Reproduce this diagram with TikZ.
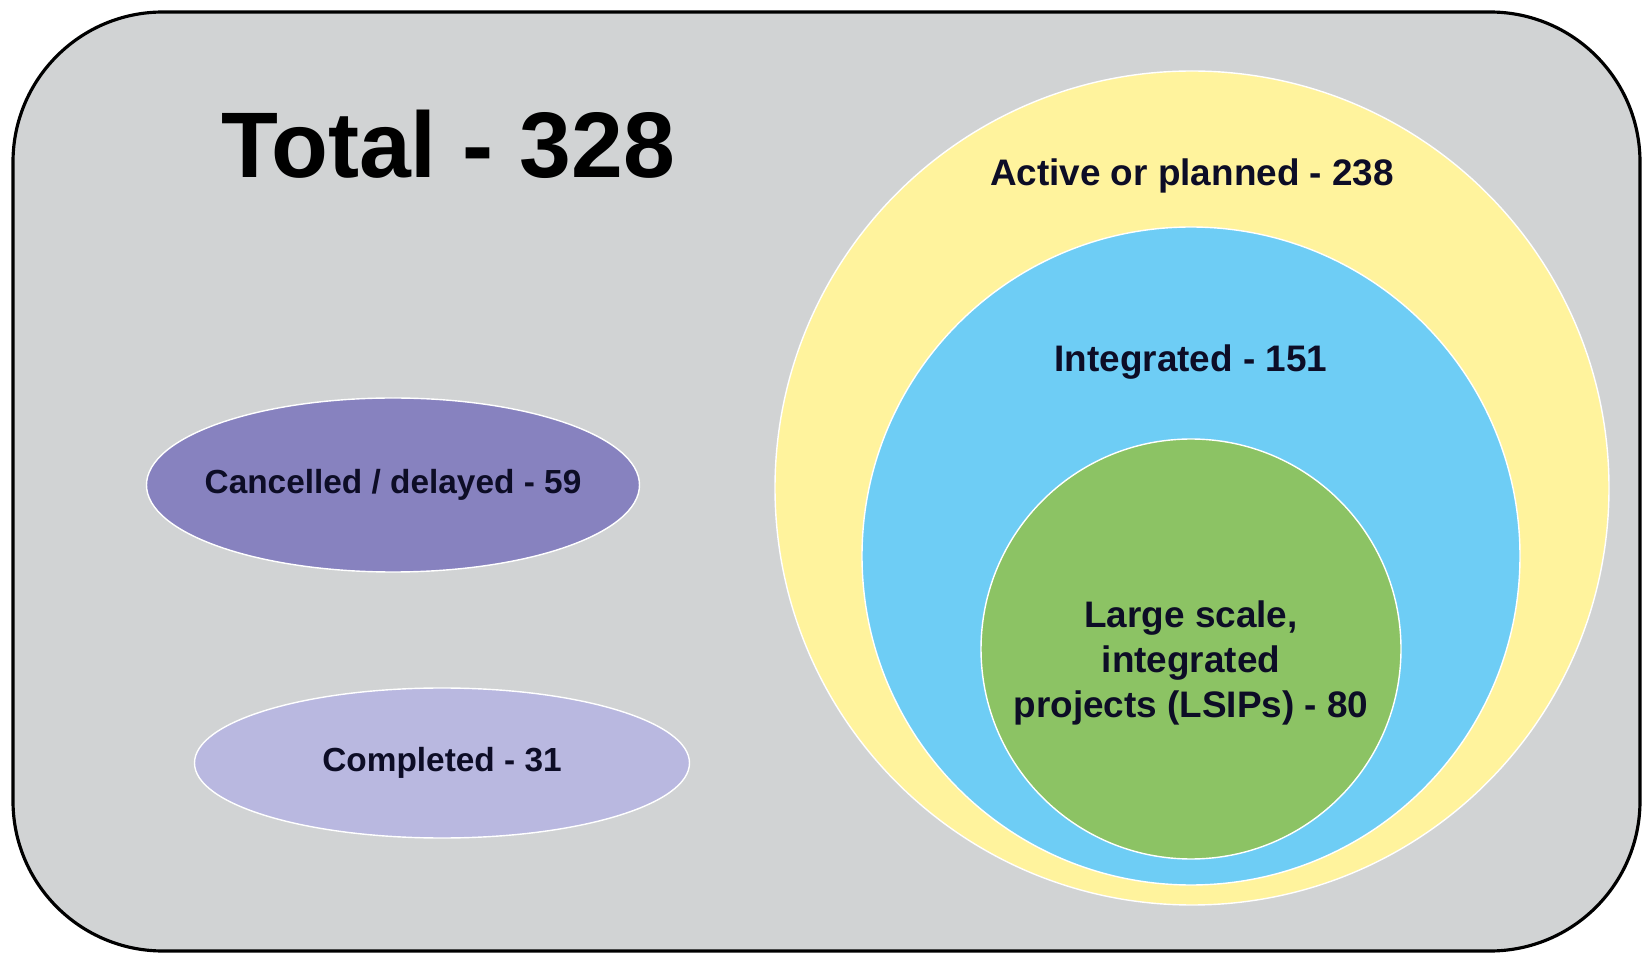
\documentclass[tikz,border=0pt]{standalone}
\usepackage{fontspec}
\setmainfont{Liberation Sans}
\usepackage{xcolor}
\definecolor{vennPanel}{HTML}{D1D3D4}
\definecolor{vennYellow}{HTML}{FFF39D}
\definecolor{vennBlue}{HTML}{6ECDF5}
\definecolor{vennGreen}{HTML}{8CC364}
\definecolor{vennPurple}{HTML}{8782BF}
\definecolor{vennLilac}{HTML}{B9B8E0}
\definecolor{vennInk}{HTML}{0D0D26}
\usepackage{tikz}
\usetikzlibrary{shapes.geometric,positioning,calc}
\tikzset{
    panel/.style={
        draw=black,
        fill=vennPanel,
        line width=1.8pt,
        rounded corners=3cm
    },
    projset/.style={
        draw=white,
        circle,
        line width=0.8pt,
        inner sep=0pt
    },
    projgroup/.style={
        draw=white,
        ellipse,
        line width=0.8pt,
        inner sep=0pt
    },
    setlabel/.style={
        font=\fontsize{21}{25.5}\selectfont\bfseries,
        text=vennInk,
        align=center
    },
    grouplabel/.style={
        font=\fontsize{19}{23}\selectfont\bfseries,
        text=vennInk
    }
}

\begin{document}
\begin{tikzpicture}
    \useasboundingbox (0,0) rectangle (32.84,19.10);
    \fill[white] (0,0) rectangle (32.84,19.10);

    % Outer panel
    \draw[panel] (0.26,0.08) rectangle (32.80,18.86);
    \node[font=\fontsize{53}{60}\selectfont\bfseries, anchor=base] (total) at (8.96,15.54) {Total - 328};

    % Nested sets
    \node[projset, fill=vennYellow, minimum size=16.68cm] (active) at (23.84,9.34) {};
    \node[projset, fill=vennBlue, minimum size=13.16cm] (integrated) at (23.82,7.98) {};
    \node[projset, fill=vennGreen, minimum size=8.4cm] (lsip) at (23.82,6.12) {};

    % Separate groups
    \node[projgroup, fill=vennPurple, minimum width=9.86cm, minimum height=3.48cm] (cancelled) at (7.86,9.40) {};
    \node[projgroup, fill=vennLilac, minimum width=9.9cm, minimum height=3.0cm] (completed) at (8.84,3.84) {};

    % Labels
    \node[setlabel, anchor=base] (activetxt) at ([yshift=-2.30cm]active.north) {Active or planned - 238};
    \node[setlabel, anchor=base] (integratedtxt) at ([yshift=-2.90cm]integrated.north) {Integrated - 151};
    \node[setlabel] (lsiptxt) at ([yshift=-0.28cm]lsip.center) {Large scale,\\integrated\\projects (LSIPs) - 80};
    \node[grouplabel] (cancelledtxt) at (cancelled.center) {Cancelled / delayed - 59};
    \node[grouplabel] (completedtxt) at (completed.center) {Completed - 31};
\end{tikzpicture}
\end{document}
